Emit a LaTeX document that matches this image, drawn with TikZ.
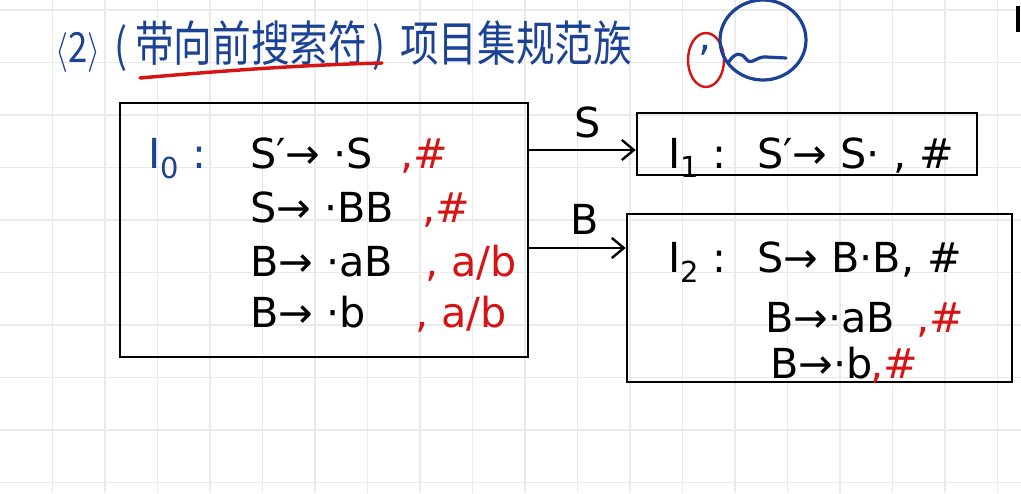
\documentclass[tikz,border=0pt]{standalone}
\usepackage{fontspec}
\usepackage{graphicx}
\setmainfont{DejaVu Sans}
\newfontfamily\cjk{Noto Sans CJK SC}
\usetikzlibrary{arrows.meta}
\definecolor{inkblue}{RGB}{28,66,150}
\definecolor{inkred}{RGB}{215,20,20}
\definecolor{gridc}{RGB}{234,234,237}
\begin{document}
\begin{tikzpicture}[x=0.75pt,y=-0.75pt,
  box/.style={draw=black, line width=1.9pt, inner sep=0pt, rectangle},
  txt/.style={anchor=base west, inner sep=0pt, font=\fontsize{31}{31}\selectfont},
  redtxt/.style={txt, text=inkred},
  bluetxt/.style={txt, text=inkblue},
  title/.style={anchor=base west, inner sep=0pt, text=inkblue, font=\cjk\fontsize{29}{29}\selectfont},
  arr/.style={line width=1.8pt, -{Straight Barb[length=9pt,width=15pt,line width=1.8pt]}},
  gridline/.style={draw=gridc, line width=0.9pt}
]
\fill[white] (0,0) rectangle (1021,493);
\useasboundingbox (0,0) rectangle (1021,493);
% grid
\foreach \i in {1,...,19} \draw[gridline] (52.5*\i,0) -- (52.5*\i,493);
\foreach \j in {0,...,9} \draw[gridline] (0,10+52.5*\j) -- (1021,10+52.5*\j);

% title
\node[title] (t0) at (55,62) {\scalebox{1}[1.2]{$\langle$\fontsize{26}{26}\selectfont 2$\rangle$}};
\node[title] (t1) at (114,62) {\scalebox{1}[1.2]{(}};
\node[title] (t2) at (135,61) {\scalebox{1}[1.25]{带向前搜索符}};
\node[title] (t3) at (372,61) {\scalebox{1}[1.2]{)}};
\node[title] (t4) at (400,61) {\scalebox{1}[1.25]{项目集规范族}};
\draw[inkred, line width=2.6pt, line cap=round] (140,78) .. controls (220,71) and (300,65) .. (382,63);

% comma with circles
\node[bluetxt, anchor=center] (cm) at (705,50) {,};
\draw[inkred, line width=1.8pt] (706,60) ellipse [x radius=18, y radius=27];
\draw[inkblue, line width=2.4pt] (763,40) ellipse [x radius=43, y radius=40];
\draw[inkblue, line width=2.4pt, line cap=round] (728,63) .. controls (735,52) and (741,52) .. (746,59) .. controls (751,66) and (757,56) .. (766,57) -- (786,58);

% top-right mark
\draw[black, line width=3.5pt] (1018,6) -- (1018,32);

% boxes
\node[box, minimum width=306pt, minimum height=190.5pt] (i0) at (324,230) {};
\node[box, minimum width=255pt, minimum height=46.5pt] (i1) at (807,144) {};
\node[box, minimum width=288.75pt, minimum height=126pt] (i2) at (819.5,298) {};

% I0 contents
\node[bluetxt] (l0) at (148,168) {I\textsubscript{0} :};
\node[txt] (a1) at (250,168) {S′→ ·S};
\node[redtxt] (r1) at (400,168) {,\#};
\node[txt] (a2) at (250,222) {S→ ·BB};
\node[redtxt] (r2) at (422,222) {,\#};
\node[txt] (a3) at (250,276) {B→ ·aB};
\node[redtxt] (r3) at (425,276) {, a/b};
\node[txt] (a4) at (250,327) {B→ ·b};
\node[redtxt] (r4) at (415,327) {, a/b};

% I1 contents
\node[txt] (l1) at (668,168) {I\textsubscript{1} :};
\node[txt] (b1) at (757,168) {S′→ S· , \#};

% I2 contents
\node[txt] (l2) at (668,272) {I\textsubscript{2} :};
\node[txt] (c1) at (757,272) {S→ B·B, \#};
\node[txt] (c2) at (765,332) {B→·aB};
\node[redtxt] (s2) at (916,332) {,\#};
\node[txt] (c3) at (770,378) {B→·b};
\node[redtxt] (s3) at (870,378) {,\#};

% connectors
\draw[arr] (i0.east |- 0,150) -- (i1.west |- 0,150);
\node[txt, anchor=base] (ls) at (588,137) {S};
\draw[arr] (i0.east |- 0,248) -- (i2.west |- 0,248);
\node[txt, anchor=base] (lb) at (585,234) {B};
\end{tikzpicture}
\end{document}
